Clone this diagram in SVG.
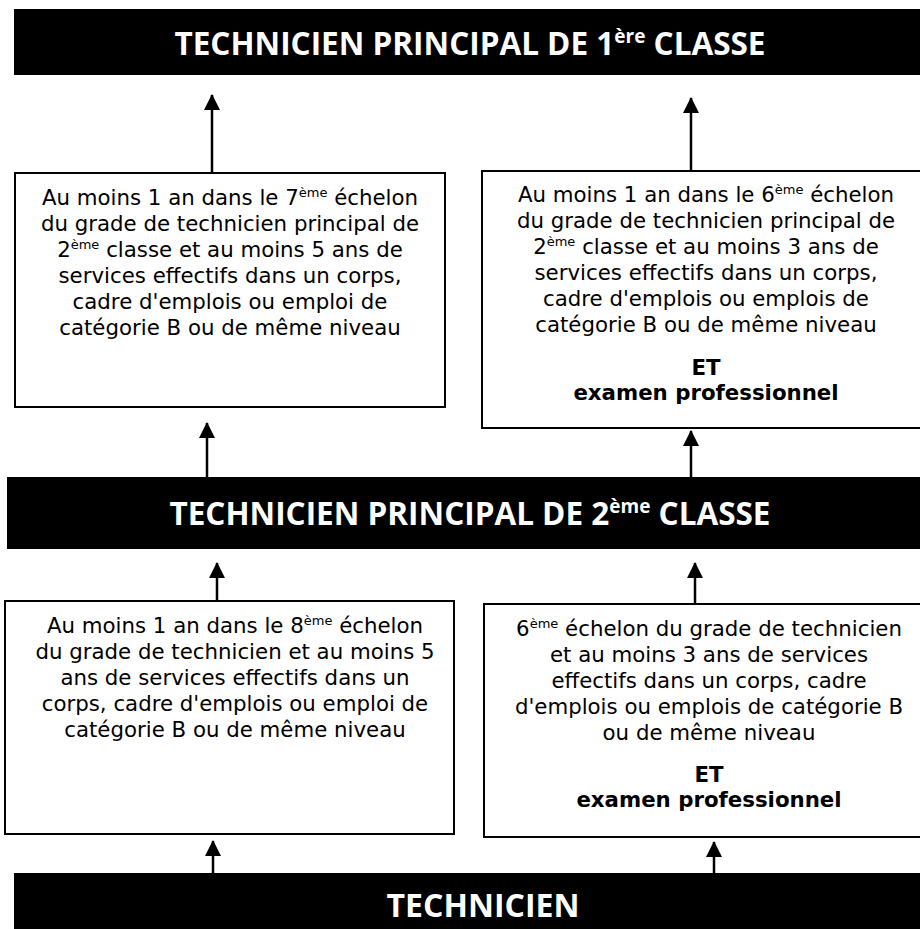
<svg xmlns="http://www.w3.org/2000/svg" width="920" height="929" viewBox="0 0 920 929">
<style>
.banner{fill:#000}
.bt{font-family:"Open Sans","Liberation Sans",sans-serif;font-weight:bold;font-size:31.5px;fill:#fff;text-anchor:middle}
.bt .sup{font-size:19px}
.bt.big{font-size:32px}
.box{fill:#fff;stroke:#000;stroke-width:2}
.t{font-family:"DejaVu Sans","Liberation Sans",sans-serif;font-size:21.3px;fill:#000;text-anchor:middle}
.t .sup{font-size:13px}
.b{font-weight:bold}
.conn line{stroke:#000;stroke-width:2.5}
</style>
<defs>
<marker id="arr" viewBox="0 0 16 16" refX="15" refY="8" markerWidth="16" markerHeight="16" markerUnits="userSpaceOnUse" orient="auto">
<path d="M0,0 L16,8 L0,16 Z" fill="#000"/>
</marker>
</defs>

<g id="banner-tp1">
<rect class="banner" x="14" y="9" width="920" height="66"/>
<text class="bt" x="470" y="55">TECHNICIEN PRINCIPAL DE 1<tspan class="sup" dy="-12">ère</tspan><tspan dy="12"> CLASSE</tspan></text>
</g>

<g id="box-ul">
<rect class="box" x="15" y="173" width="430" height="234"/>
<text class="t" x="230" y="205">Au moins 1 an dans le 7<tspan class="sup" dy="-8">ème</tspan><tspan dy="8"> échelon</tspan></text>
<text class="t" x="230" y="231">du grade de technicien principal de</text>
<text class="t" x="230" y="257">2<tspan class="sup" dy="-8">ème</tspan><tspan dy="8"> classe et au moins 5 ans de</tspan></text>
<text class="t" x="230" y="283">services effectifs dans un corps,</text>
<text class="t" x="230" y="309">cadre d'emplois ou emploi de</text>
<text class="t" x="230" y="335">catégorie B ou de même niveau</text>
</g>

<g id="box-ur">
<rect class="box" x="482" y="171" width="450" height="257"/>
<text class="t" x="706" y="202">Au moins 1 an dans le 6<tspan class="sup" dy="-8">ème</tspan><tspan dy="8"> échelon</tspan></text>
<text class="t" x="706" y="228">du grade de technicien principal de</text>
<text class="t" x="706" y="254">2<tspan class="sup" dy="-8">ème</tspan><tspan dy="8"> classe et au moins 3 ans de</tspan></text>
<text class="t" x="706" y="280">services effectifs dans un corps,</text>
<text class="t" x="706" y="306">cadre d'emplois ou emplois de</text>
<text class="t" x="706" y="332">catégorie B ou de même niveau</text>
<text class="t b" x="706" y="375">ET</text>
<text class="t b" x="706" y="400">examen professionnel</text>
</g>

<g id="banner-tp2">
<rect class="banner" x="7" y="477" width="930" height="72"/>
<text class="bt" x="470" y="525">TECHNICIEN PRINCIPAL DE 2<tspan class="sup" dy="-12">ème</tspan><tspan dy="12"> CLASSE</tspan></text>
</g>

<g id="box-ll">
<rect class="box" x="5" y="601" width="449" height="233"/>
<text class="t" x="235" y="633">Au moins 1 an dans le 8<tspan class="sup" dy="-8">ème</tspan><tspan dy="8"> échelon</tspan></text>
<text class="t" x="235" y="659">du grade de technicien et au moins 5</text>
<text class="t" x="235" y="685">ans de services effectifs dans un</text>
<text class="t" x="235" y="711">corps, cadre d'emplois ou emploi de</text>
<text class="t" x="235" y="737">catégorie B ou de même niveau</text>
</g>

<g id="box-lr">
<rect class="box" x="484" y="604" width="450" height="233"/>
<text class="t" x="709" y="636">6<tspan class="sup" dy="-8">ème</tspan><tspan dy="8"> échelon du grade de technicien</tspan></text>
<text class="t" x="709" y="662">et au moins 3 ans de services</text>
<text class="t" x="709" y="688">effectifs dans un corps, cadre</text>
<text class="t" x="709" y="714">d'emplois ou emplois de catégorie B</text>
<text class="t" x="709" y="740">ou de même niveau</text>
<text class="t b" x="709" y="782">ET</text>
<text class="t b" x="709" y="807">examen professionnel</text>
</g>

<g id="banner-tech">
<rect class="banner" x="14" y="873" width="920" height="60"/>
<text class="bt big" x="483" y="917">TECHNICIEN</text>
</g>

<g id="connectors" class="conn">
<line x1="212" y1="173" x2="212" y2="95" marker-end="url(#arr)"/>
<line x1="691" y1="171" x2="691" y2="98" marker-end="url(#arr)"/>
<line x1="207" y1="477" x2="207" y2="423" marker-end="url(#arr)"/>
<line x1="691" y1="477" x2="691" y2="431" marker-end="url(#arr)"/>
<line x1="217" y1="601" x2="217" y2="563" marker-end="url(#arr)"/>
<line x1="695" y1="604" x2="695" y2="563" marker-end="url(#arr)"/>
<line x1="213" y1="873" x2="213" y2="841" marker-end="url(#arr)"/>
<line x1="714" y1="873" x2="714" y2="842" marker-end="url(#arr)"/>
</g>
</svg>
